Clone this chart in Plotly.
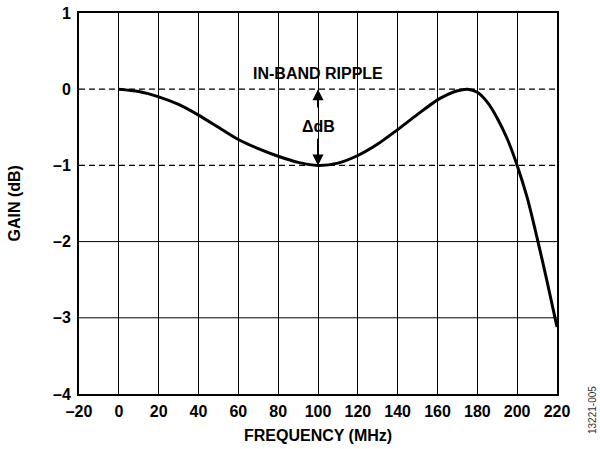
import plotly.graph_objects as go

# Frequency response of the filter (gain vs. frequency)
freq_mhz = [0, 10, 20, 30, 40, 50, 60, 70, 80, 90, 100, 110, 120, 130, 140,
            150, 160, 165, 170, 175, 180, 185, 190, 195, 200, 205, 210, 215, 220]
gain_db = [0.0, -0.03, -0.1, -0.2, -0.34, -0.5, -0.66, -0.78, -0.88, -0.96,
           -1.0, -0.97, -0.87, -0.72, -0.53, -0.33, -0.14, -0.07, -0.02, 0.0,
           -0.04, -0.17, -0.38, -0.65, -1.0, -1.42, -1.95, -2.52, -3.12]

x_ticks = [-20, 0, 20, 40, 60, 80, 100, 120, 140, 160, 180, 200, 220]
x_labels = ["–20", "0", "20", "40", "60", "80", "100", "120", "140", "160",
            "180", "200", "220"]
y_ticks = [1, 0, -1, -2, -3, -4]
y_labels = ["1", "0", "–1", "–2", "–3", "–4"]

ripple_top = 0.0
ripple_bottom = -1.0
dashed_levels = [ripple_top, ripple_bottom]
solid_levels = [-2, -3]

FONT = "Liberation Sans, Arial, sans-serif"
BOLD = dict(family=FONT, size=16, color="black", weight="bold")

fig = go.Figure()
fig.add_trace(go.Scatter(
    x=freq_mhz, y=gain_db, mode="lines",
    line=dict(color="black", width=3, shape="spline", smoothing=0.8),
    hoverinfo="skip", showlegend=False,
))

shapes = []
for lvl in dashed_levels:
    shapes.append(dict(type="line", xref="paper", yref="y", x0=0, x1=1,
                       y0=lvl, y1=lvl, layer="below",
                       line=dict(color="black", width=1.2, dash="6px,4px")))
for lvl in solid_levels:
    shapes.append(dict(type="line", xref="paper", yref="y", x0=0, x1=1,
                       y0=lvl, y1=lvl, layer="below",
                       line=dict(color="black", width=1)))

annotations = [
    dict(x=100, y=0.21, xref="x", yref="y", text="IN-BAND RIPPLE",
         showarrow=False, font=BOLD),
    dict(x=100, y=-0.49, xref="x", yref="y", text="ΔdB", showarrow=False,
         font=BOLD),
    # ripple arrows
    dict(x=100, y=ripple_top, ax=100, ay=-0.26, xref="x", yref="y",
         axref="x", ayref="y", text="", showarrow=True, arrowhead=2,
         arrowsize=1.1, arrowwidth=2, arrowcolor="black", standoff=0),
    dict(x=100, y=ripple_bottom, ax=100, ay=-0.63, xref="x", yref="y",
         axref="x", ayref="y", text="", showarrow=True, arrowhead=2,
         arrowsize=1.1, arrowwidth=2, arrowcolor="black", standoff=0),
    # axis titles
    dict(x=-65 / 478, y=0.5, xref="paper", yref="paper", text="GAIN (dB)",
         textangle=-90, showarrow=False, xanchor="center", yanchor="middle",
         font=BOLD),
    dict(x=0.5, y=-41.5 / 381, xref="paper", yref="paper",
         text="FREQUENCY (MHz)", showarrow=False, xanchor="center",
         yanchor="middle", font=BOLD),
    dict(x=(592 - 79) / 478, y=-16 / 381, xref="paper", yref="paper",
         text="13221-005", textangle=-90, showarrow=False, xanchor="center",
         yanchor="middle", font=dict(family=FONT, size=10, color="#333")),
]

fig.update_layout(
    width=600, height=449,
    margin=dict(l=79, r=43, t=13, b=55, autoexpand=False),
    paper_bgcolor="white", plot_bgcolor="white",
    font=dict(family=FONT, color="black"),
    shapes=shapes, annotations=annotations,
    xaxis=dict(
        range=[-20, 220], tickvals=x_ticks, ticktext=x_labels,
        showgrid=True, gridcolor="black", gridwidth=1,
        showline=True, linecolor="black", linewidth=2, mirror=True,
        zeroline=False, ticks="", automargin=False, ticklabelstandoff=2,
        tickfont=BOLD,
    ),
    yaxis=dict(
        range=[-4, 1], tickvals=y_ticks, ticktext=y_labels,
        showgrid=False,
        showline=True, linecolor="black", linewidth=2, mirror=True,
        zeroline=False, ticks="", automargin=False, ticklabelstandoff=3,
        tickfont=BOLD,
    ),
)

fig.write_html("out.html")
